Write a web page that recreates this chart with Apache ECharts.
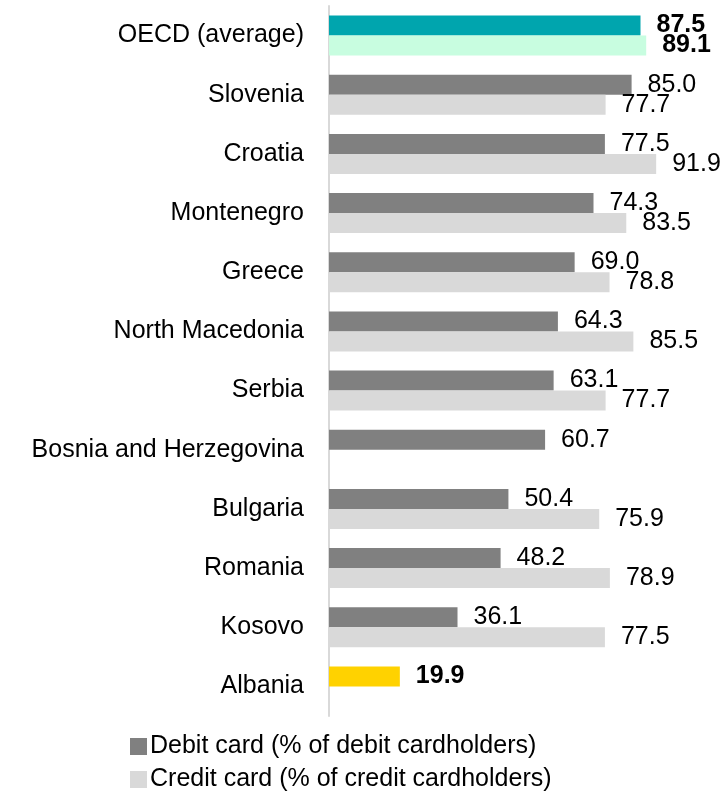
<!DOCTYPE html>
<html>
<head>
<meta charset="utf-8">
<script src="https://cdn.jsdelivr.net/npm/echarts@6/dist/echarts.min.js"></script>
<style>
  html, body { margin: 0; padding: 0; background: #fff; }
  #chart { width: 724px; height: 795px; }
</style>
</head>
<body>
<div id="chart"></div>
<script>
// categories, top to bottom
var countries = ['OECD (average)', 'Slovenia', 'Croatia', 'Montenegro', 'Greece',
    'North Macedonia', 'Serbia', 'Bosnia and Herzegovina', 'Bulgaria', 'Romania',
    'Kosovo', 'Albania'];
var debitValues = [87.5, 85.0, 77.5, 74.3, 69.0, 64.3, 63.1, 60.7, 50.4, 48.2, 36.1, 19.9];
var creditValues = [89.1, 77.7, 91.9, 83.5, 78.8, 85.5, 77.7, null, 75.9, 78.9, 77.5, null];
var seriesNames = ['Debit card (% of debit cardholders)', 'Credit card (% of credit cardholders)'];

var FONT = 'Liberation Sans, Arial, sans-serif';

// highlighted bars: OECD reference and Albania
var debitHighlight = { 'OECD (average)': '#00a5ae', 'Albania': '#ffd200' };
var creditHighlight = { 'OECD (average)': '#c8fde0' };

function build_data(values, highlight) {
    var out = [];
    for (var i = 0; i < values.length; ++i) {
        var name = countries[i];
        if (values[i] == null) { out.push('-'); continue; }
        var item = { value: values[i] };
        if (highlight[name]) {
            item.itemStyle = { color: highlight[name] };
            item.label = { fontWeight: 'bold' };
        }
        out.push(item);
    }
    return out;
}

var labelStyle = {
    show: true,
    position: 'right',
    distance: 16,
    color: '#000',
    fontSize: 25,
    fontFamily: FONT,
    formatter: function (p) { return p.value.toFixed(1); }
};

var option = {
    animation: false,
    backgroundColor: '#fff',
    grid: { left: 329, right: 39, top: 6, bottom: 79 },
    legend: {
        orient: 'vertical',
        left: 130,
        top: 734,
        height: 61,
        padding: 0,
        itemWidth: 17,
        itemHeight: 17,
        itemGap: 8,
        icon: 'rect',
        textStyle: { fontSize: 25, color: '#000', fontFamily: FONT, padding: [0, 0, 0, -2] },
        data: seriesNames
    },
    xAxis: {
        type: 'value',
        min: 0,
        max: 100,
        show: false,
        splitLine: { show: false }
    },
    yAxis: {
        type: 'category',
        inverse: true,
        data: countries,
        axisLine: { show: true, lineStyle: { color: '#d9d9d9', width: 2 } },
        axisTick: { show: false },
        axisLabel: { color: '#000', fontSize: 25, fontFamily: FONT, margin: 25 }
    },
    series: [
        {
            name: seriesNames[0],
            type: 'bar',
            barWidth: 20,
            barGap: '0%',
            itemStyle: { color: '#808080' },
            label: labelStyle,
            data: build_data(debitValues, debitHighlight)
        },
        {
            name: seriesNames[1],
            type: 'bar',
            barWidth: 20,
            barGap: '0%',
            itemStyle: { color: '#d9d9d9' },
            label: labelStyle,
            data: build_data(creditValues, creditHighlight)
        }
    ]
};

var myChart = echarts.init(document.getElementById('chart'));
myChart.setOption(option);
</script>
</body>
</html>
